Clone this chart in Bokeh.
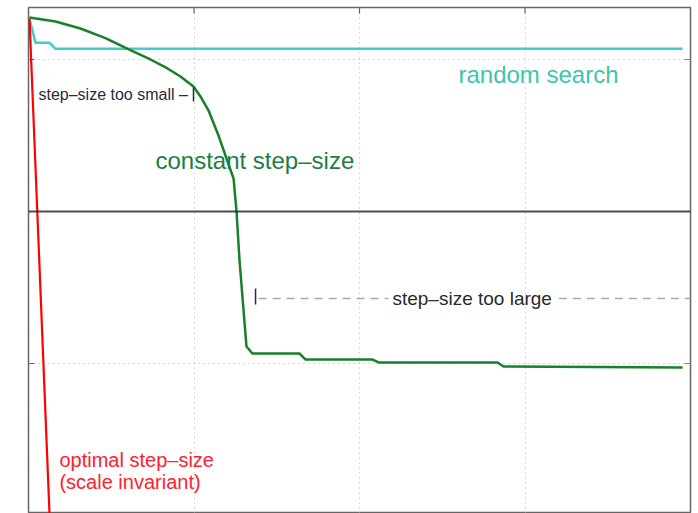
from bokeh.plotting import figure
from bokeh.models import Range1d, FixedTicker, Span, Label
from bokeh.embed import file_html
from bokeh.resources import INLINE

# ---- data ----
x_ticks = [1000, 2000, 3000]
y_ticks = [1, -1]
target_level = 0

random_x = [6, 42, 127, 163, 1000, 2500, 3952]
random_y = [1.27, 1.11, 1.11, 1.07, 1.07, 1.07, 1.07]

const_x = [6, 163, 314, 465, 622, 737, 840, 918, 997, 1039, 1088, 1148, 1196,
           1239, 1257, 1275, 1317, 1353, 1637, 1674, 2079, 2115, 2834, 2870, 3952]
const_y = [1.276, 1.25, 1.204, 1.14, 1.059, 1.0, 0.941, 0.888, 0.822, 0.757,
           0.664, 0.5, 0.349, 0.217, 0.0, -0.322, -0.888, -0.934, -0.934,
           -0.974, -0.974, -0.993, -0.993, -1.020, -1.026]

opt_x = [6, 131]
opt_y = [1.27, -2.1]

FONT = "Liberation Sans"
Y_TOP = 1.342
Y_BOT = -1.987

p = figure(width=698, height=513, output_backend="svg", toolbar_location=None,
           x_range=Range1d(0, 4000), y_range=Range1d(Y_BOT, Y_TOP),
           min_border_left=28, min_border_right=8, min_border_top=7,
           min_border_bottom=0)
p.xaxis.visible = False
p.yaxis.visible = False
p.outline_line_color = "#666666"
p.outline_line_width = 1.5

p.xgrid.ticker = FixedTicker(ticks=x_ticks)
p.ygrid.ticker = FixedTicker(ticks=y_ticks)
for g in (p.xgrid, p.ygrid):
    g.grid_line_color = "#b0b0b0"
    g.grid_line_dash = "1 4"
    g.grid_line_width = 1

# inward tick marks
tx = 36
ty = 0.04
p.segment(x0=[0] * len(y_ticks), x1=[tx] * len(y_ticks), y0=y_ticks, y1=y_ticks,
          line_color="#666666", line_width=1.2)
p.segment(x0=[4000 - tx] * len(y_ticks), x1=[4000] * len(y_ticks), y0=y_ticks, y1=y_ticks,
          line_color="#888888", line_width=1.2)
p.segment(x0=x_ticks, x1=x_ticks, y0=[Y_TOP] * len(x_ticks), y1=[Y_TOP - ty] * len(x_ticks),
          line_color="#666666", line_width=1.2)

p.add_layout(Span(location=target_level, dimension="width", line_color="#222222",
                  line_width=2, line_alpha=0.8))

p.line(random_x, random_y, line_color="#45CBC8", line_width=2.5)
p.line(opt_x, opt_y, line_color="#FF0000", line_width=2.2)
p.line(const_x, const_y, line_color="#17802A", line_width=2.5)

# annotations
p.add_layout(Label(x=2598, y=0.901, text="random search", text_font=FONT,
                   text_font_size="24px", text_color="#3DC4B0", text_baseline="middle"))
p.add_layout(Label(x=767, y=0.337, text="constant step\u2013size", text_font=FONT,
                   text_font_size="24px", text_color="#1E7D45", text_baseline="middle"))
p.add_layout(Label(x=60, y=0.767, text="step\u2013size too small \u2013", text_font=FONT,
                   text_font_size="16px", text_color="#2a2a3a", text_baseline="middle"))
p.segment(x0=[997], x1=[997], y0=[0.816], y1=[0.724], line_color="#2a2a3a", line_width=1.5)

p.add_layout(Label(x=2199, y=-0.572, text="step\u2013size too large", text_font=FONT,
                   text_font_size="19px", text_color="#2a2a2a", text_baseline="middle"))
p.segment(x0=[1390, 3205], x1=[2175, 4000], y0=[-0.572, -0.572], y1=[-0.572, -0.572],
          line_color="#aaaaaa", line_width=1.5, line_dash="8 6")
p.segment(x0=[1372], x1=[1372], y0=[-0.507], y1=[-0.612], line_color="#2a2a3a", line_width=1.5)

p.add_layout(Label(x=187, y=-1.638, text="optimal step\u2013size", text_font=FONT,
                   text_font_size="20px", text_color="#FF2030", text_baseline="middle"))
p.add_layout(Label(x=187, y=-1.783, text="(scale invariant)", text_font=FONT,
                   text_font_size="20px", text_color="#FF2030", text_baseline="middle"))

open("out.html", "w").write(file_html(p, INLINE))
